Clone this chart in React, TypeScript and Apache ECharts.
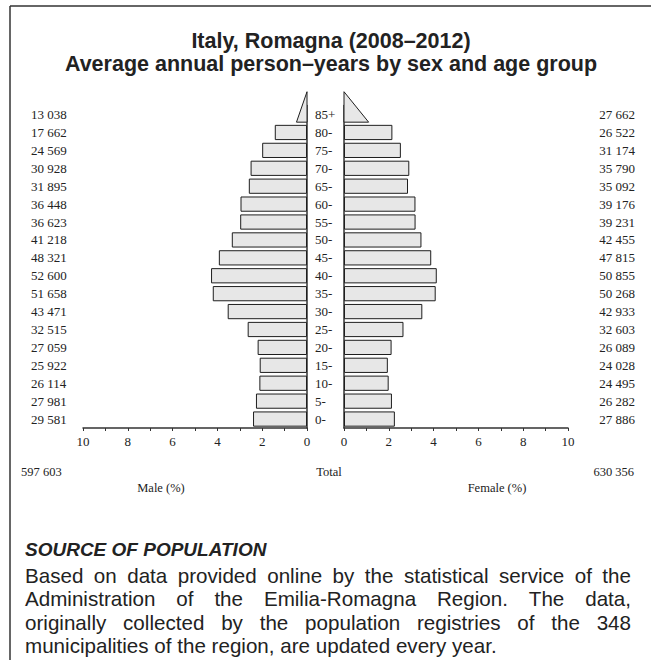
import React, { useEffect, useRef } from 'react';
import * as echarts from 'echarts';

const ageGroups = ['0-', '5-', '10-', '15-', '20-', '25-', '30-', '35-', '40-', '45-', '50-', '55-', '60-', '65-', '70-', '75-', '80-', '85+'];
const maleCounts = [29581, 27981, 26114, 25922, 27059, 32515, 43471, 51658, 52600, 48321, 41218, 36623, 36448, 31895, 30928, 24569, 17662, 13038];
const femaleCounts = [27886, 26282, 24495, 24028, 26089, 32603, 42933, 50268, 50855, 47815, 42455, 39231, 39176, 35092, 35790, 31174, 26522, 27662];
const maleTotal = 597603;
const femaleTotal = 630356;
// width (in %) of the base of the open-ended 85+ triangles
const oldestBaseMale = [0.47];
const oldestBaseFemale = [1.1];

const titleLines = ['Italy, Romagna (2008–2012)', 'Average annual person–years by sex and age group'];
const sourceHeading = 'SOURCE OF POPULATION';
const sourceLines = [
  'Based on data provided online by the statistical service of the',
  'Administration of the Emilia-Romagna Region. The data,',
  'originally collected by the population registries of the 348',
  'municipalities of the region, are updated every year.',
];

const SERIF = '"Liberation Serif", "DejaVu Serif", serif';
const SANS = '"Liberation Sans", Arial, sans-serif';
const INK = '#222';
const BAR_FILL = '#e7e7e7';
const BAR_STROKE = '#1e1e1e';

function fmt(n: number): string {
  if (n < 1000) return String(n);
  return `${Math.floor(n / 1000)} ${String(n % 1000).padStart(3, '0')}`;
}

export default function App() {
  const ref = useRef<HTMLDivElement>(null);

  useEffect(() => {
    if (!ref.current) return;
    const chart = echarts.init(ref.current, undefined, { renderer: 'svg' });

    const grand = maleTotal + femaleTotal;
    const lastIdx = ageGroups.length - 1;
    const malePct = maleCounts.map((c, i) => (i === lastIdx ? null : (c / grand) * 100));
    const femalePct = femaleCounts.map((c, i) => (i === lastIdx ? null : (c / grand) * 100));

    // justified paragraph
    const paraFontSize = 20.6;
    const paraFont = `${paraFontSize}px "Liberation Sans"`;
    const canvas = document.createElement('canvas');
    const ctx = canvas.getContext('2d')!;
    ctx.font = paraFont;
    const paraLeft = 25;
    const paraRight = 631;
    const paraTop = 575.5;
    const lineStep = 23.4;
    const paraGraphics: any[] = [];
    sourceLines.forEach((line, li) => {
      const y = paraTop + li * lineStep;
      if (li === sourceLines.length - 1) {
        paraGraphics.push({
          type: 'text',
          x: paraLeft,
          y,
          style: { text: line, font: paraFont, fill: INK, align: 'left', verticalAlign: 'middle', textAlign: 'left', textVerticalAlign: 'middle' },
        });
        return;
      }
      const words = line.split(' ');
      const widths = words.map((w) => ctx.measureText(w).width);
      const total = widths.reduce((a, b) => a + b, 0);
      const gap = (paraRight - paraLeft - total) / (words.length - 1);
      let x = paraLeft;
      words.forEach((w, wi) => {
        paraGraphics.push({
          type: 'text',
          x,
          y,
          style: { text: w, font: paraFont, fill: INK, align: 'left', verticalAlign: 'middle', textAlign: 'left', textVerticalAlign: 'middle' },
        });
        x += widths[wi] + gap;
      });
    });

    const smallText = (text: string, x: number, y: number, align: string) => ({
      type: 'text',
      x,
      y,
      style: { text, font: `12.5px ${SERIF}`, fill: INK, align, verticalAlign: 'middle', textAlign: align, textVerticalAlign: 'middle' },
    });

    const gridTop = 105.6;
    const gridHeight = 322.4;

    const xAxisCommon = {
      type: 'value',
      min: 0,
      max: 10,
      interval: 1,
      axisLine: { show: true, onZero: false, lineStyle: { color: '#333', width: 1.5 } },
      axisTick: { show: true, length: 3, lineStyle: { color: '#333', width: 1 } },
      axisLabel: {
        margin: 7,
        fontFamily: SERIF,
        fontSize: 13,
        color: INK,
        formatter: (v: number) => (Math.round(v) % 2 === 0 ? String(Math.round(v)) : ''),
      },
      splitLine: { show: false },
    };

    const triangle = (params: any, api: any) => {
      const yi = api.value(1);
      const base = api.value(0);
      const p0 = api.coord([0, yi]);
      const p1 = api.coord([base, yi]);
      const band = api.size([0, 1])[1];
      const bottom = p0[1] + band * 0.425;
      const top = bottom - band * 1.7;
      return {
        type: 'polygon',
        shape: { points: [[p0[0], top], [p0[0], bottom], [p1[0], bottom]] },
        style: { fill: BAR_FILL, stroke: BAR_STROKE, lineWidth: 1 },
      };
    };

    const option: any = {
      animation: false,
      backgroundColor: '#fff',
      title: {
        text: titleLines.join('\n'),
        left: 326,
        textAlign: 'center',
        top: 24.5,
        textStyle: { fontFamily: SANS, fontSize: 21.5, fontWeight: 'bold', color: INK, lineHeight: 23 },
      },
      grid: [
        { left: 83, width: 224, top: gridTop, height: gridHeight },
        { left: 344, width: 224, top: gridTop, height: gridHeight },
      ],
      xAxis: [
        { ...xAxisCommon, gridIndex: 0, inverse: true },
        { ...xAxisCommon, gridIndex: 1 },
      ],
      yAxis: [
        {
          type: 'category', gridIndex: 0, data: ageGroups, position: 'right',
          axisLine: { show: true, onZero: false, lineStyle: { color: '#333', width: 1.5 } },
          axisTick: { show: false }, axisLabel: { show: false }, splitLine: { show: false },
        },
        {
          type: 'category', gridIndex: 0, data: maleCounts.map(fmt), position: 'left',
          axisLine: { show: false, onZero: false }, axisTick: { show: false },
          axisLabel: { align: 'left', margin: 52, fontFamily: SERIF, fontSize: 13, color: INK },
        },
        {
          type: 'category', gridIndex: 1, data: ageGroups, position: 'left',
          axisLine: { show: true, onZero: false, lineStyle: { color: '#333', width: 1.5 } },
          axisTick: { show: false },
          axisLabel: { align: 'left', margin: 29, fontFamily: SERIF, fontSize: 13, color: INK },
        },
        {
          type: 'category', gridIndex: 1, data: femaleCounts.map(fmt), position: 'right',
          axisLine: { show: false, onZero: false }, axisTick: { show: false },
          axisLabel: { align: 'right', margin: 67, fontFamily: SERIF, fontSize: 13, color: INK },
        },
      ],
      series: [
        {
          type: 'bar', name: 'Male', xAxisIndex: 0, yAxisIndex: 0, data: malePct,
          barCategoryGap: '15%',
          itemStyle: { color: BAR_FILL, borderColor: BAR_STROKE, borderWidth: 1 },
        },
        {
          type: 'bar', name: 'Female', xAxisIndex: 1, yAxisIndex: 2, data: femalePct,
          barCategoryGap: '15%',
          itemStyle: { color: BAR_FILL, borderColor: BAR_STROKE, borderWidth: 1 },
        },
        {
          type: 'custom', xAxisIndex: 0, yAxisIndex: 0, clip: false,
          encode: { x: 0, y: 1 },
          data: oldestBaseMale.map((b) => [b, lastIdx]),
          renderItem: triangle,
        },
        {
          type: 'custom', xAxisIndex: 1, yAxisIndex: 2, clip: false,
          encode: { x: 0, y: 1 },
          data: oldestBaseFemale.map((b) => [b, lastIdx]),
          renderItem: triangle,
        },
      ],
      graphic: [
        { type: 'line', shape: { x1: 10, y1: 6, x2: 651, y2: 6 }, style: { stroke: '#333', lineWidth: 1.5 } },
        { type: 'line', shape: { x1: 10, y1: 6, x2: 10, y2: 660 }, style: { stroke: '#333', lineWidth: 1.5 } },
        smallText(fmt(maleTotal), 21, 472, 'left'),
        smallText('Total', 329, 472, 'center'),
        smallText(fmt(femaleTotal), 634, 472, 'right'),
        smallText('Male (%)', 161, 488, 'center'),
        smallText('Female (%)', 497, 488, 'center'),
        {
          type: 'text',
          x: paraLeft,
          y: 549,
          style: {
            text: sourceHeading,
            font: `italic bold 19px "Liberation Sans"`,
            fill: INK, align: 'left', verticalAlign: 'middle', textAlign: 'left', textVerticalAlign: 'middle',
          },
        },
        ...paraGraphics,
      ],
    };

    chart.setOption(option);
    return () => chart.dispose();
  }, []);

  return (
    <div style={{ position: 'absolute', left: 0, top: 0, width: 651, height: 660, background: '#fff' }}>
      <div ref={ref} style={{ width: 651, height: 660 }} />
    </div>
  );
}
